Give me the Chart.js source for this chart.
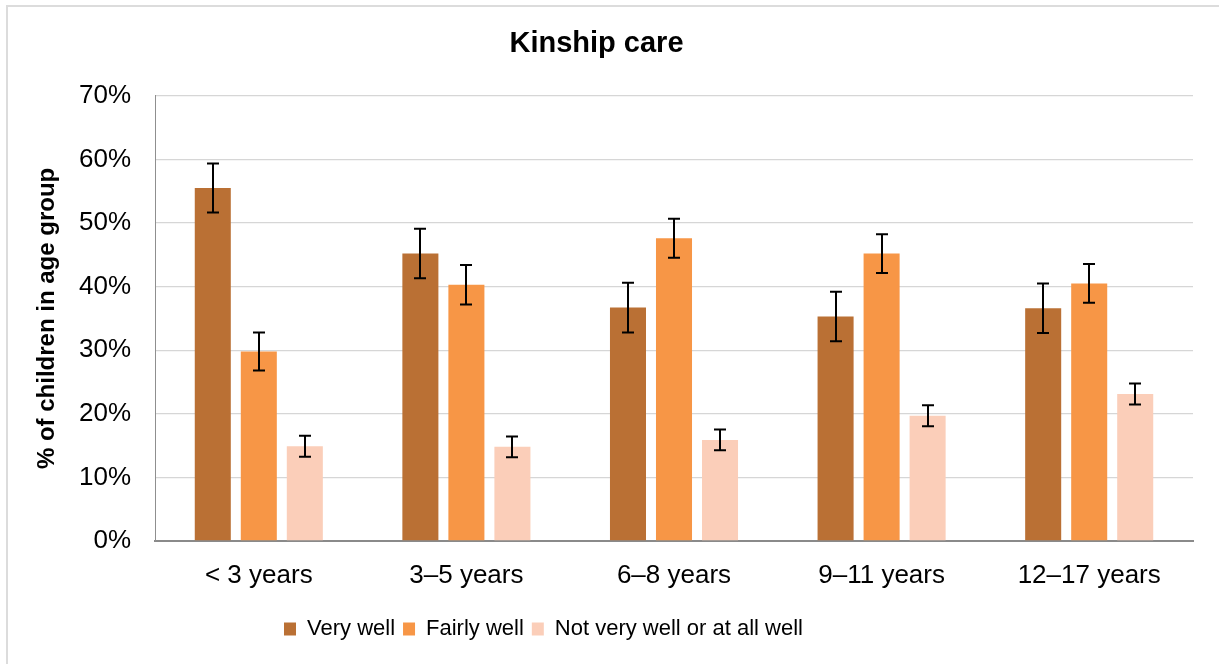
<!DOCTYPE html>
<html>
<head>
<meta charset="utf-8">
<script src="https://cdn.jsdelivr.net/npm/chart.js@4/dist/chart.umd.min.js"></script>
<style>
  html, body { margin: 0; padding: 0; background: #fff; overflow: hidden; }
  #wrap { position: relative; width: 1219px; height: 664px; overflow: hidden; }
  #frame { position: absolute; left: 6px; top: 5px; width: 1400px; height: 800px; border: 2px solid #DCDCDC; box-sizing: border-box; }
  canvas { position: absolute; left: 0; top: 0; }
</style>
</head>
<body>
<div id="wrap">
  <div id="frame"></div>
  <canvas id="c" width="1219" height="664"></canvas>
</div>
<script>
const chartTitle = 'Kinship care';
const yAxisTitle = '% of children in age group';
const categories = ['< 3 years', '3–5 years', '6–8 years', '9–11 years', '12–17 years'];
const seriesNames = ['Very well', 'Fairly well', 'Not very well or at all well'];
const veryWell = [55.5, 45.2, 36.7, 35.3, 36.6];
const fairlyWell = [29.8, 40.3, 47.6, 45.2, 40.5];
const notVeryWell = [14.9, 14.8, 15.9, 19.7, 23.1];
const veryWellErr = [3.85, 3.9, 3.9, 3.9, 3.9];
const fairlyWellErr = [3.0, 3.1, 3.05, 3.05, 3.05];
const notVeryWellErr = [1.65, 1.65, 1.65, 1.65, 1.65];
const yTickLabels = ['0%', '10%', '20%', '30%', '40%', '50%', '60%', '70%'];
const colors = ['#BA7034', '#F79646', '#FBCEB9'];

const FONT = "'Liberation Sans', Arial, sans-serif";

const errorBarPlugin = {
  id: 'errorBars',
  afterDatasetsDraw(chart) {
    const ctx = chart.ctx;
    const yScale = chart.scales.y;
    ctx.save();
    ctx.strokeStyle = '#000';
    ctx.lineWidth = 2;
    chart.data.datasets.forEach((ds, di) => {
      const meta = chart.getDatasetMeta(di);
      meta.data.forEach((bar, i) => {
        const v = ds.data[i], e = ds.errors[i];
        const yt = yScale.getPixelForValue(v + e);
        const yb = yScale.getPixelForValue(v - e);
        const x = Math.round(bar.x);
        const cap = 6;
        ctx.beginPath();
        ctx.moveTo(x, yt); ctx.lineTo(x, yb);
        ctx.moveTo(x - cap, yt); ctx.lineTo(x + cap, yt);
        ctx.moveTo(x - cap, yb); ctx.lineTo(x + cap, yb);
        ctx.stroke();
      });
    });
    ctx.restore();
  }
};

const legendShiftPlugin = {
  id: 'legendShift',
  afterLayout(chart) {
    const lg = chart.legend;
    if (!lg || !lg.lineWidths) return;
    const pad = lg.options.labels.padding;
    const cur = (lg.left + pad + lg.right - lg.lineWidths[0]) / 2;
    const delta = 284 - cur;
    lg.left += delta;
    lg.right += delta;
  }
};

new Chart(document.getElementById('c'), {
  type: 'bar',
  data: {
    labels: categories,
    datasets: [
      { label: seriesNames[0], data: veryWell, errors: veryWellErr, backgroundColor: colors[0] },
      { label: seriesNames[1], data: fairlyWell, errors: fairlyWellErr, backgroundColor: colors[1] },
      { label: seriesNames[2], data: notVeryWell, errors: notVeryWellErr, backgroundColor: colors[2] }
    ]
  },
  options: {
    responsive: false,
    animation: false,
    devicePixelRatio: 1,
    layout: { padding: { left: 0, right: 26, top: 0, bottom: 14 } },
    datasets: { bar: { categoryPercentage: 0.665, barPercentage: 0.783, borderWidth: 0 } },
    plugins: {
      title: {
        display: true,
        text: chartTitle,
        color: '#000',
        font: { family: FONT, size: 29, weight: 'bold' },
        padding: { top: 27, bottom: 34 }
      },
      legend: {
        position: 'bottom',
        labels: {
          color: '#000',
          font: { family: FONT, size: 22 },
          boxWidth: 12,
          boxHeight: 13,
          padding: 8
        }
      },
      tooltip: { enabled: false }
    },
    scales: {
      x: {
        grid: { display: false, drawTicks: false },
        border: { display: true, color: '#8A8A8A', width: 2 },
        ticks: { color: '#000', font: { family: FONT, size: 26 }, padding: 19, maxRotation: 0 },
        afterFit(scale) { scale.height = 69; }
      },
      y: {
        min: 0,
        max: 70,
        grid: { color: '#D6D6D6', lineWidth: 1.3, drawTicks: false },
        border: { display: true, color: '#8F8F8F', width: 1 },
        ticks: {
          stepSize: 10,
          color: '#000',
          font: { family: FONT, size: 26 },
          padding: 24,
          callback: (v) => yTickLabels[Math.round(v / 10)]
        },
        title: {
          display: true,
          text: yAxisTitle,
          color: '#000',
          font: { family: FONT, size: 24, weight: 'bold' },
          padding: { top: 33, bottom: 0 }
        },
        afterFit(scale) { scale.width = 155; }
      }
    }
  },
  plugins: [errorBarPlugin, legendShiftPlugin]
});
</script>
</body>
</html>
